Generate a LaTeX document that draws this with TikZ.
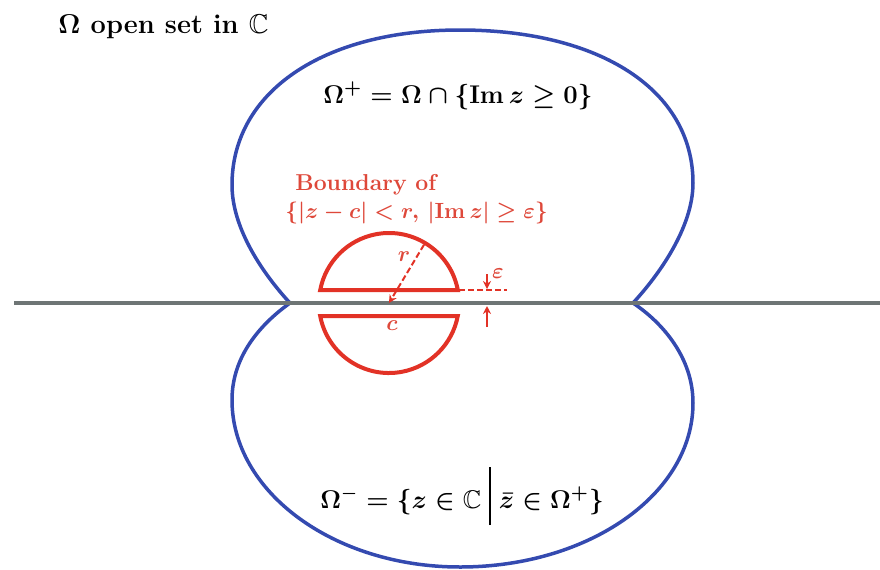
\RequirePackage{fix-cm}
\documentclass[tikz,border=0pt]{standalone}
\usepackage{amssymb}
\usetikzlibrary{arrows.meta,calc}
\definecolor{lobeblue}{RGB}{52,74,176}
\definecolor{axisgray}{RGB}{110,117,117}
\definecolor{setred}{RGB}{226,50,38}
\definecolor{labelred}{RGB}{222,72,58}
\tikzset{
  lobe/.style={draw=lobeblue, line width=1.75pt},
  axis/.style={draw=axisgray, line width=2pt},
  halfdisc/.style={draw=setred, line width=2pt},
  guide/.style={draw=setred, line width=1pt, dash pattern=on 3pt off 1.5pt},
  marker/.style={draw=setred, line width=1pt, -{Stealth[length=4pt,width=4pt]}},
  biglabel/.style={font=\fontsize{12.8}{15}\selectfont\bfseries\boldmath, inner sep=0pt},
  redlabel/.style={font=\fontsize{11.5}{13}\selectfont\bfseries\boldmath, text=labelred, inner sep=0pt},
  smalllabel/.style={font=\fontsize{11}{12}\selectfont\boldmath, text=labelred, inner sep=0pt},
}
\newcommand{\tallbar}{\mathrel{\rule[-8.5pt]{0.6pt}{29pt}}}
\begin{document}
\begin{tikzpicture}[x=0.5pt,y=-0.5pt]
\useasboundingbox (0,0) rectangle (880,569);
% Omega lobes
\coordinate (A) at (290,303);
\coordinate (B) at (633,303);
\coordinate (L) at (232,185);
\coordinate (T) at (460,30);
\coordinate (R) at (693,183);
\coordinate (L2) at (232,400);
\coordinate (Bt) at (460,567);
\coordinate (R2) at (693,403);
\draw[lobe] (A) .. controls ($(A)+(-25,-27)$) and ($(L)+(0,45)$) .. (L)
  .. controls ($(L)+(0,-93)$) and ($(T)+(-137,0)$) .. (T)
  .. controls ($(T)+(140,0)$) and ($(R)+(0,-93)$) .. (R)
  .. controls ($(R)+(0,45)$) and ($(B)+(25,-27)$) .. (B);
\draw[lobe] (A) .. controls ($(A)+(-28,20)$) and ($(L2)+(0,-45)$) .. (L2)
  .. controls ($(L2)+(0,92)$) and ($(Bt)+(-126,0)$) .. (Bt)
  .. controls ($(Bt)+(129,0)$) and ($(R2)+(0,91)$) .. (R2)
  .. controls ($(R2)+(0,-45)$) and ($(B)+(30,20)$) .. (B);
% real axis
\draw[axis] (14,303) -- (880,303);
% half discs
\coordinate (c) at (389,303);
\draw[halfdisc] (c) ++(68.8,-13) arc[start angle=10.7, end angle=169.3, radius=35pt] -- cycle;
\draw[halfdisc] (c) ++(-68.8,13) arc[start angle=190.7, end angle=349.3, radius=35pt] -- cycle;
% radius
\coordinate (rtop) at ($(c)+(59:34pt)$);
\draw[guide, -{Stealth[length=4pt,width=4pt]}] (rtop) -- (c);
% epsilon
\coordinate (chordend) at (459,290);
\coordinate (epsend) at (507,290);
\draw[guide] (chordend) -- (epsend);
\coordinate (downfrom) at (487,274);
\coordinate (downto) at (487,289);
\coordinate (upfrom) at (487,327);
\coordinate (upto) at (487,306);
\draw[marker] (downfrom) -- (downto);
\draw[marker] (upfrom) -- (upto);
% labels
\node[biglabel, font=\fontsize{13.6}{15}\selectfont\bfseries\boldmath, anchor=base west] (title) at (58,33) {$\Omega$ open set in $\mathbb{C}$};
\node[biglabel, anchor=base] (plus) at (458,103) {$\Omega^+ = \Omega \cap \{\mathrm{Im}\, z \geq 0\}$};
\node[biglabel, anchor=base] (minus) at (462,508) {$\Omega^- = \{z \in \mathbb{C} \tallbar \bar z \in \Omega^+\}$};
\node[redlabel, anchor=base west] (bnd1) at (295,190) {Boundary of};
\node[redlabel, font=\fontsize{11}{13}\selectfont\bfseries\boldmath, anchor=base west] (bnd2) at (285,218) {$\{|z-c| < r,\, |\mathrm{Im}\, z| \geq \varepsilon\}$};
\node[smalllabel] (rlab) at (404,257) {$r$};
\node[smalllabel] (clab) at (392,326) {$c$};
\node[smalllabel] (elab) at (498,274) {$\varepsilon$};
\end{tikzpicture}
\end{document}
